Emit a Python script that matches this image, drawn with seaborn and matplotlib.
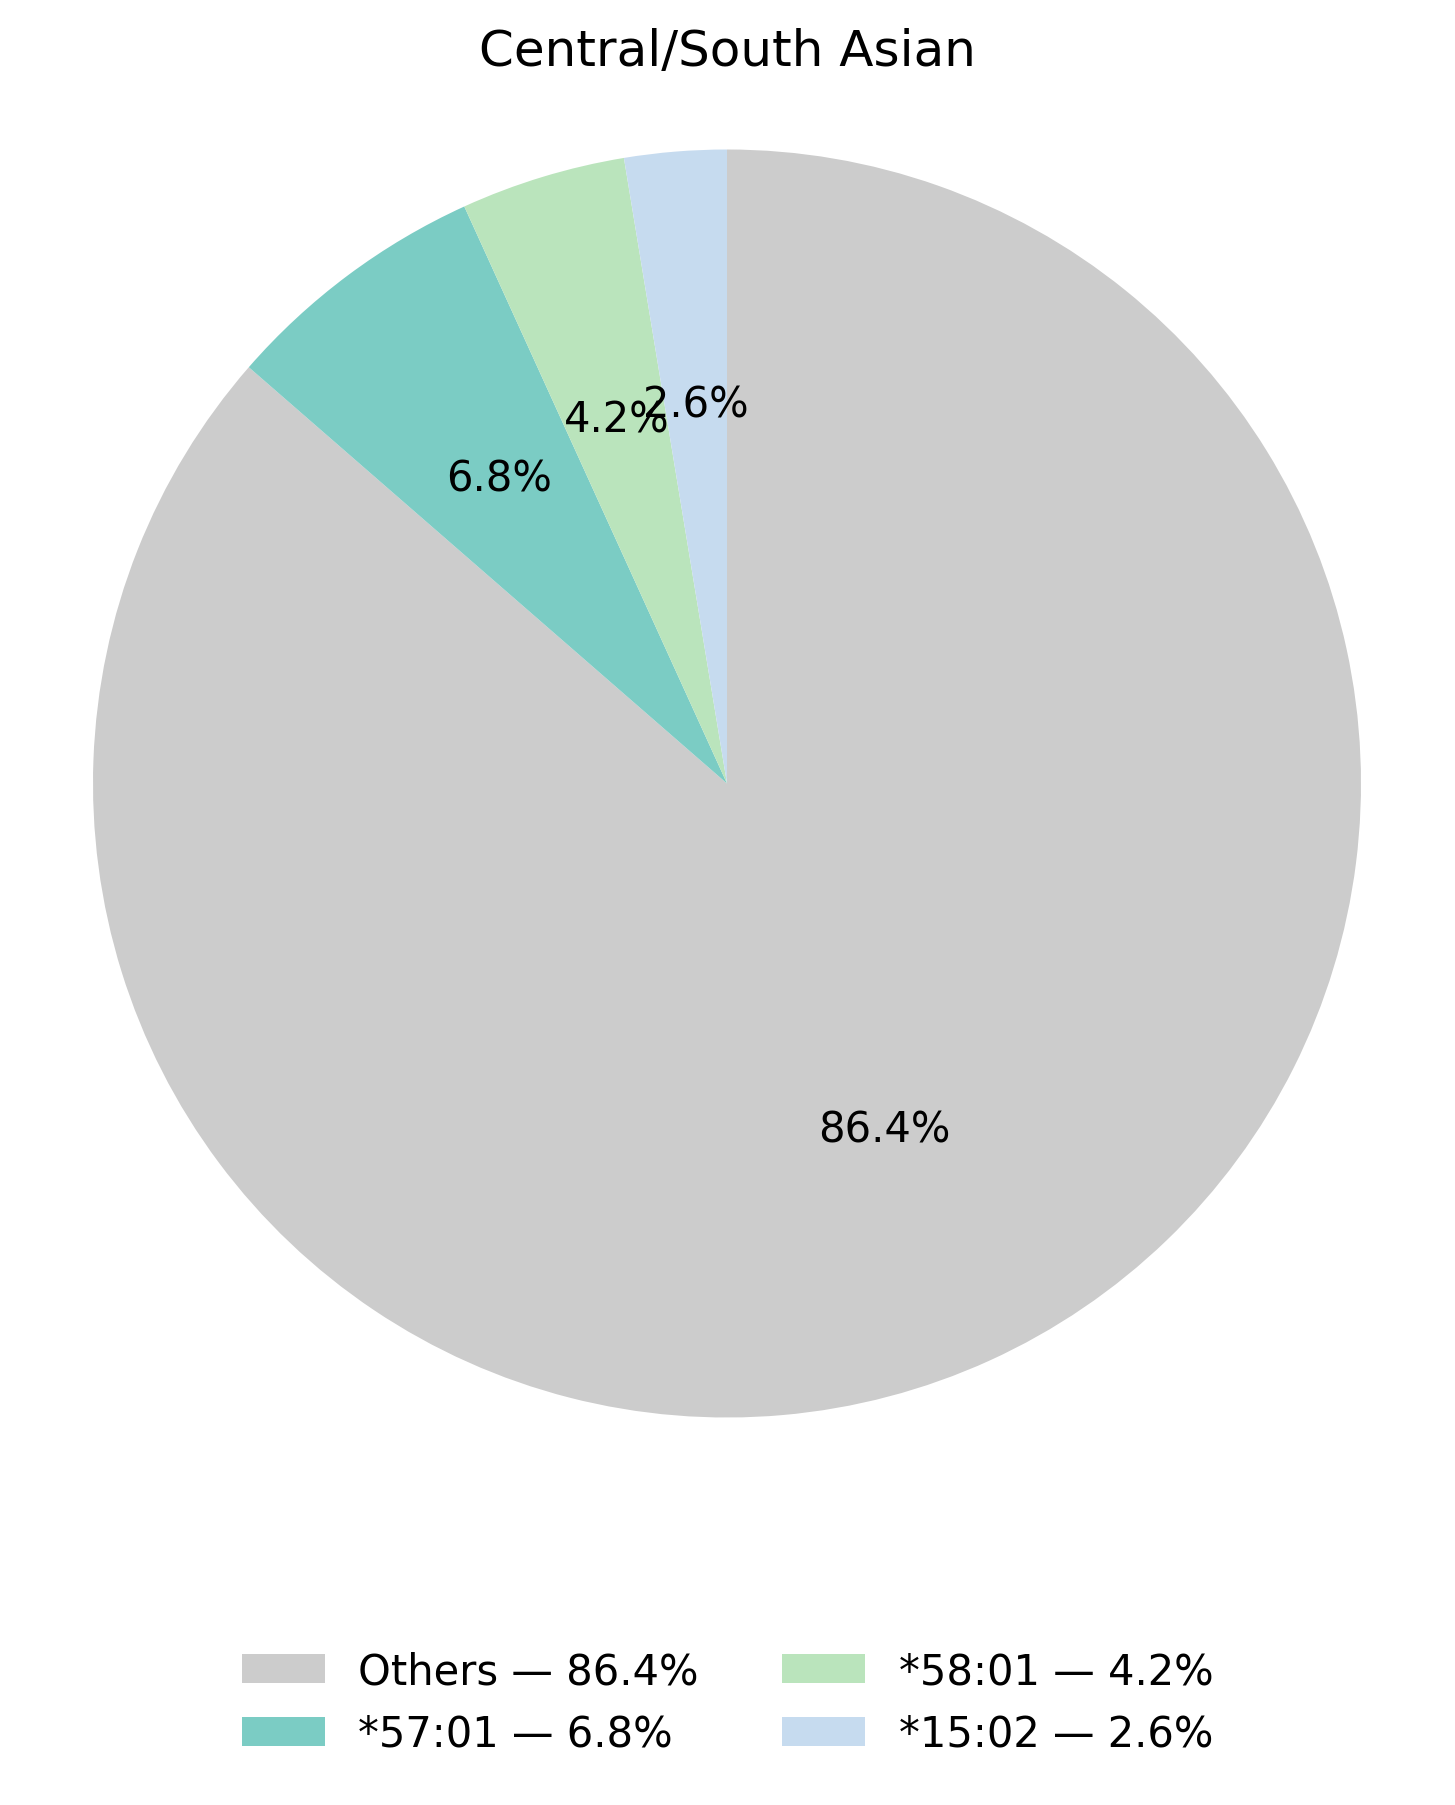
import matplotlib
matplotlib.use("Agg")
import matplotlib.pyplot as plt
import seaborn as sns

sns.set_theme(style="white")
plt.rcParams['font.family'] = ['DejaVu Sans']
plt.rcParams['text.color'] = 'black'

# data
alleles = ["Others", "*57:01", "*58:01", "*15:02"]
shares = [86.4, 6.8, 4.2, 2.6]
colors = ["#cccccc", "#7bccc4", "#bae4bc", "#c6dbef"]

fig = plt.figure(figsize=(7.275, 9.03), dpi=200)
W, H = 1455, 1806
cx, cy, r = 727, 784.5, 634
half = r * 1.05
ax = fig.add_axes([(cx - half) / W, (H - cy - half) / H, 2 * half / W, 2 * half / H])

wedges, texts, autotexts = ax.pie(
    shares, colors=colors, startangle=90, counterclock=False,
    autopct='%1.1f%%', pctdistance=0.6,
    textprops={'fontsize': 15, 'color': 'black'},
    wedgeprops={'linewidth': 0},
)
ax.set_xlim(-1.05, 1.05)
ax.set_ylim(-1.05, 1.05)
ax.set_aspect('equal')
ax.axis('off')

fig.text(0.5, 1 - 52 / H, "Central/South Asian", ha='center', va='center',
         fontsize=18, color='black')

labels = [f"{a} — {s:.1f}%" for a, s in zip(alleles, shares)]
leg = fig.legend(wedges, labels, loc='center', bbox_to_anchor=(0.5, 1 - 1703.5 / H),
                 ncol=2, frameon=False, fontsize=15)
for t in leg.get_texts():
    t.set_color('black')

fig.savefig("out.png", dpi=200)
